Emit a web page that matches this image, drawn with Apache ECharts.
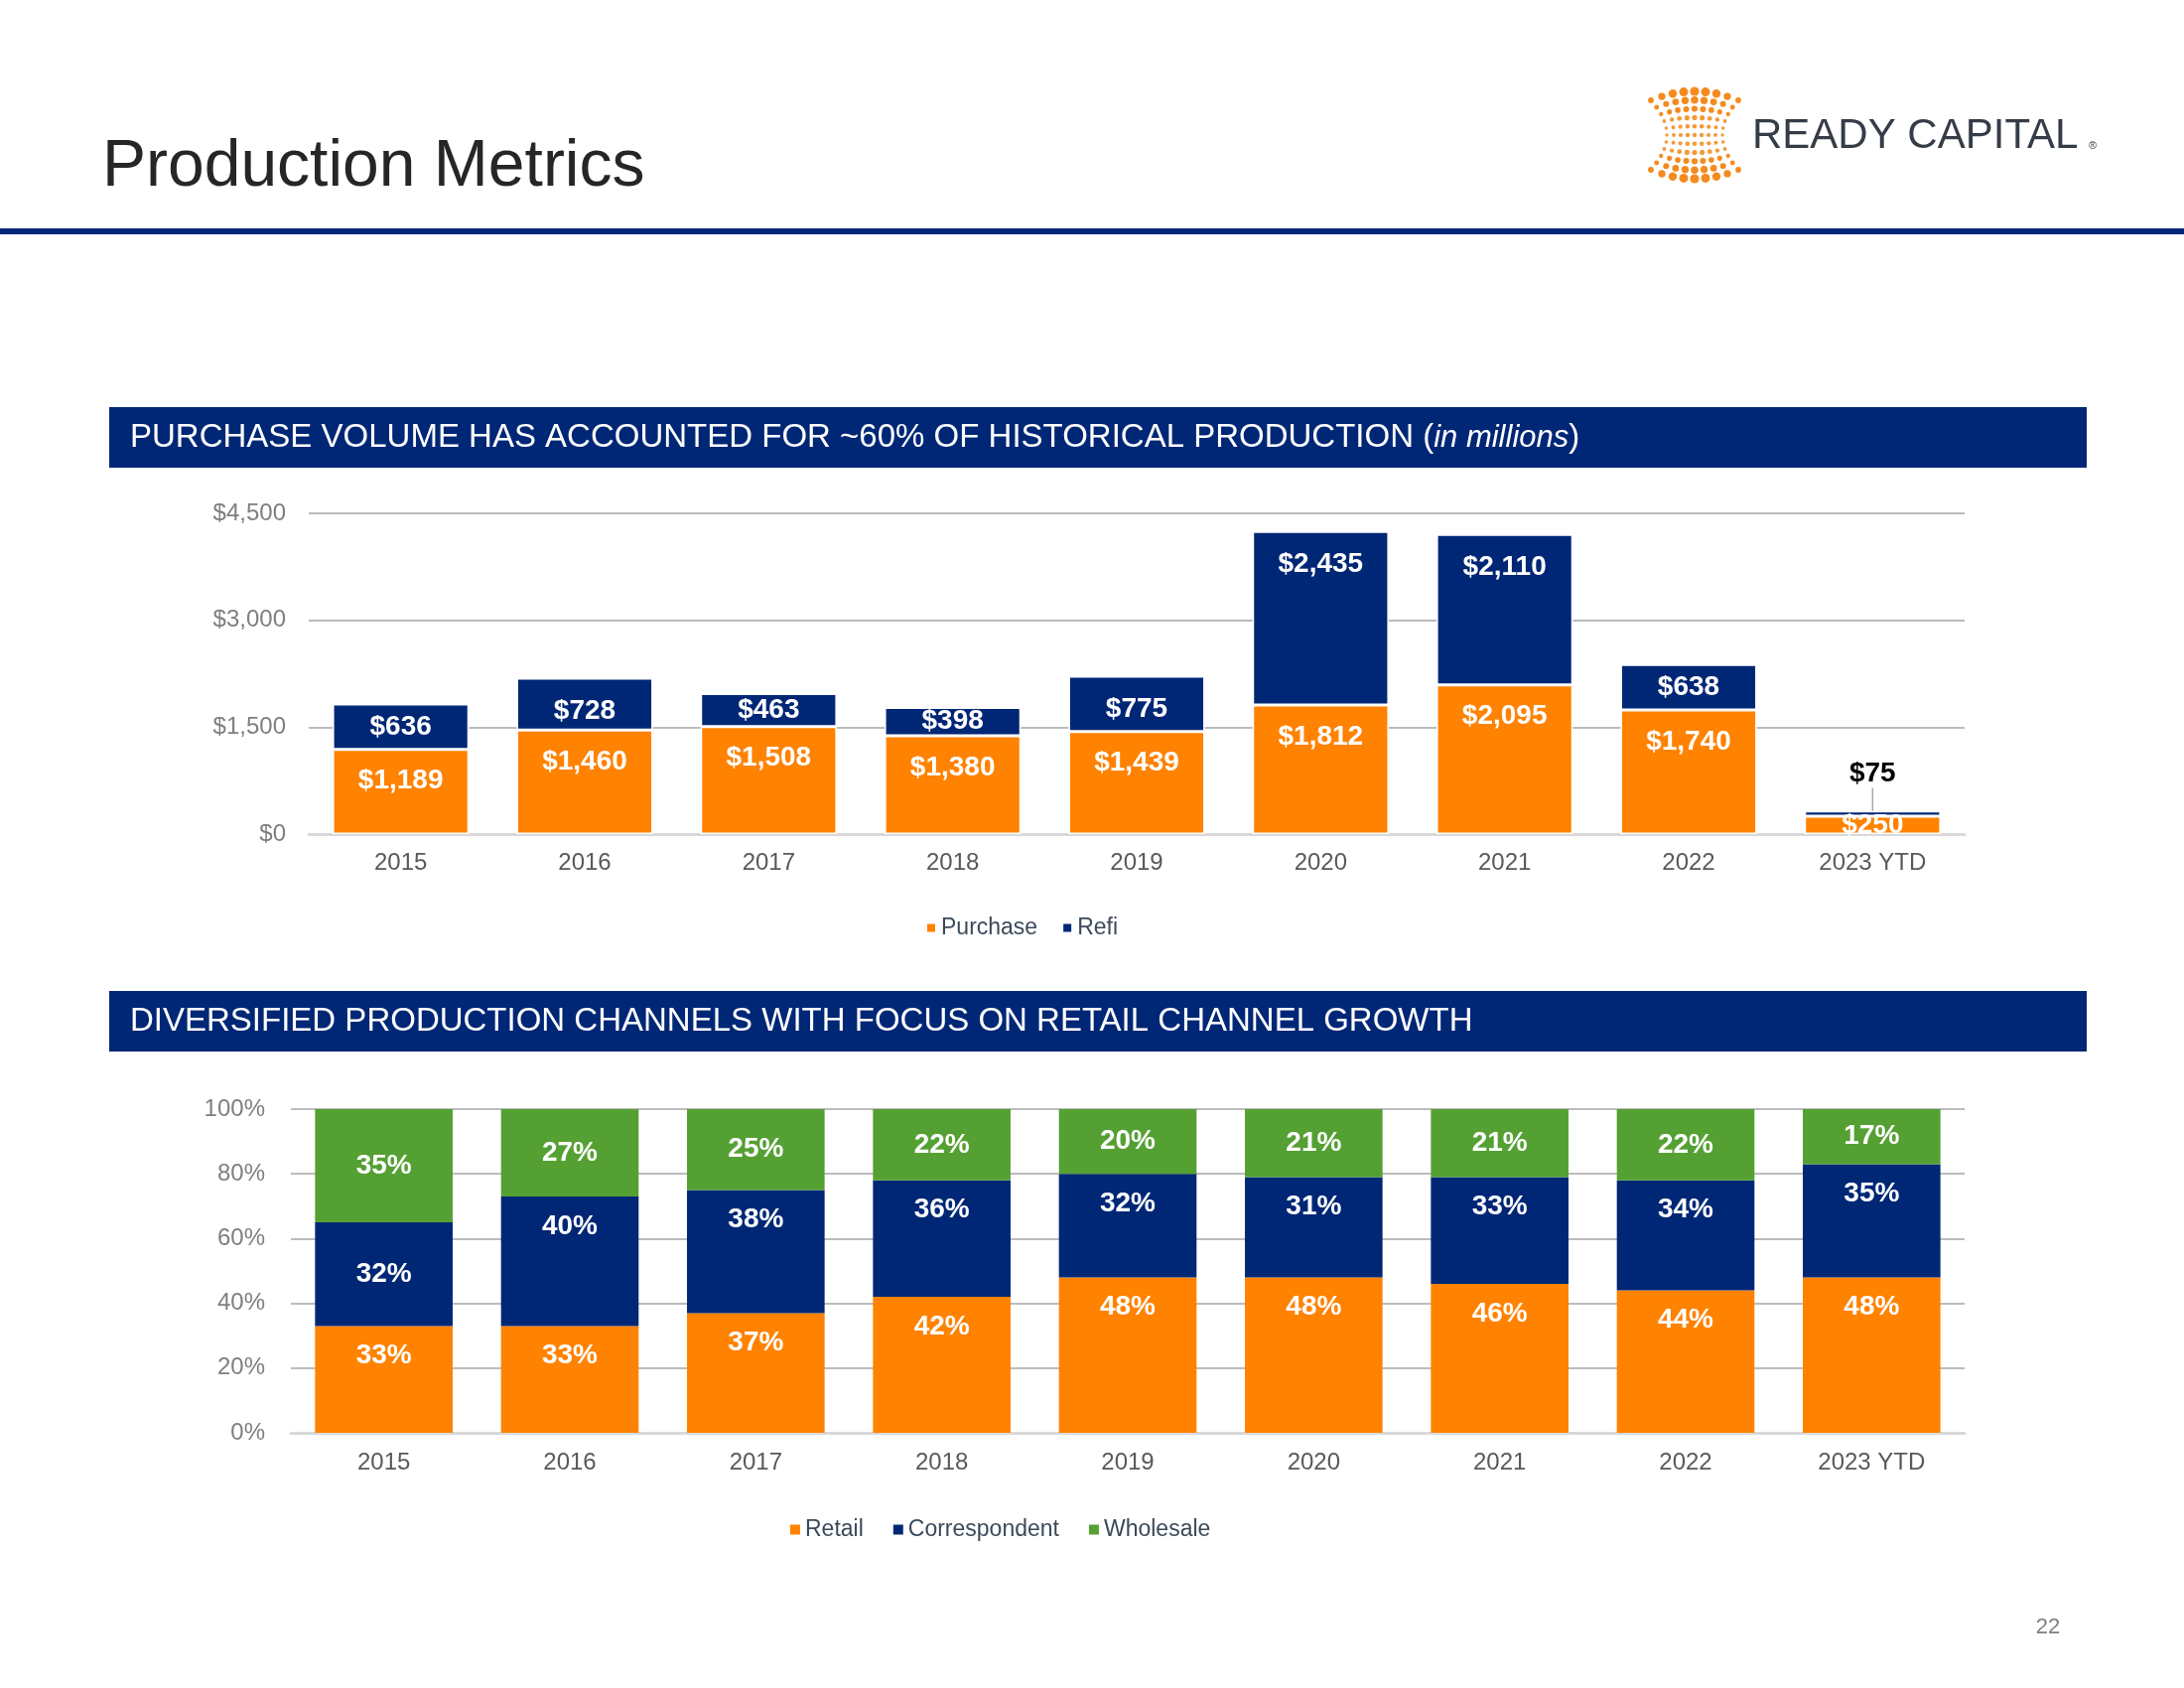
<!DOCTYPE html>
<html><head><meta charset="utf-8">
<script src="https://cdn.jsdelivr.net/npm/echarts@6/dist/echarts.min.js"></script>
<style>html,body{margin:0;padding:0;background:#fff}#c{width:2200px;height:1700px}</style>
</head><body><div id="c"></div>
<script>
// ---- data ----
const years = ['2015','2016','2017','2018','2019','2020','2021','2022','2023 YTD'];
const purchase = [1189,1460,1508,1380,1439,1812,2095,1740,250];
const refi = [636,728,463,398,775,2435,2110,638,75];
const retail = [33,33,37,42,48,48,46,44,48];
const correspondent = [32,40,38,36,32,31,33,34,35];
const wholesale = [35,27,25,22,20,21,21,22,17];
const volumeTicks = [0,1500,3000,4500];
const shareTicks = [0,20,40,60,80,100];

// ---- style ----
const ORANGE = '#FF8200', NAVY = '#002776', GREEN = '#55A033';
const FONT = '"Liberation Sans", Arial, sans-serif';
const last = years.length - 1;
const money = v => '$' + Number(v).toLocaleString('en-US');

// logo dots
const logoDots = [];
for (let r = 0; r <= 10; r++) {
  const t = (r - 5) / 5;
  for (let c = 0; c <= 8; c++) {
    const u = (c - 4) / 4;
    const x = 1707 + u * (28 + 16 * t * t);
    const y = 136 + t * (35 + 9 * (1 - u * u));
    const rad = 1.7 + 2.4 * t * t * (1 - 0.5 * u * u) + 0.5 * (1 - u * u);
    logoDots.push({type: 'circle', shape: {cx: x, cy: y, r: rad}, style: {fill: (Math.abs(t) > 0.5 ? '#F58A1F' : '#F39A3A')}, silent: true});
  }
}

const barLabel = {show: true, color: '#fff', fontFamily: FONT, fontWeight: 'bold', fontSize: 28};

const option = {
  backgroundColor: '#fff',
  animation: false,
  textStyle: {fontFamily: FONT},
  graphic: [
    {type: 'text', left: 103, top: 136, style: {text: 'Production Metrics', font: '66px ' + FONT, fill: '#262626'}},
    {type: 'rect', shape: {x: 0, y: 230, width: 2200, height: 6}, style: {fill: NAVY}},
    {type: 'rect', shape: {x: 110, y: 410, width: 1992, height: 61}, style: {fill: NAVY}},
    {type: 'rect', shape: {x: 110, y: 998, width: 1992, height: 61}, style: {fill: NAVY}},
    {type: 'text', x: 131, y: 441, style: {
      text: '{n|PURCHASE VOLUME HAS ACCOUNTED FOR ~60% OF HISTORICAL PRODUCTION (}{i|in millions}{n|)}',
      verticalAlign: 'middle', rich: {
        n: {fontFamily: FONT, fontSize: 33, fill: '#fff'},
        i: {fontFamily: FONT, fontSize: 31, fontStyle: 'italic', fill: '#fff'}
      }}},
    {type: 'text', x: 131, y: 1029, style: {text: 'DIVERSIFIED PRODUCTION CHANNELS WITH FOCUS ON RETAIL CHANNEL GROWTH',
      verticalAlign: 'middle', font: '33px ' + FONT, fill: '#fff'}},
    {type: 'text', x: 1765, y: 137, style: {text: 'READY CAPITAL', verticalAlign: 'middle', font: '42px ' + FONT, fill: '#353C47'}},
    {type: 'text', x: 2104, y: 147, style: {text: '®', verticalAlign: 'middle', font: '11px ' + FONT, fill: '#353C47'}},
    {type: 'text', x: 2063, y: 1639, style: {text: '22', align: 'center', verticalAlign: 'middle', font: '22px ' + FONT, fill: '#7F7F7F'}},
    ...logoDots
  ],
  legend: [
    {data: ['Purchase', 'Refi'], left: 927, top: 918, icon: 'rect', itemWidth: 10, itemHeight: 10, itemGap: 24,
      textStyle: {fontFamily: FONT, fontSize: 23, color: '#3B4A5A'}},
    {data: ['Retail', 'Correspondent', 'Wholesale'], left: 791, top: 1524, icon: 'rect', itemWidth: 10, itemHeight: 10, itemGap: 30,
      textStyle: {fontFamily: FONT, fontSize: 23, color: '#3B4A5A'}}
  ],
  grid: [
    {left: 311, right: 221, top: 517, height: 323},
    {left: 293, right: 221, top: 1117, height: 326}
  ],
  xAxis: [
    {type: 'category', gridIndex: 0, data: years, axisTick: {show: false},
      axisLine: {lineStyle: {color: '#D9D9D9', width: 3}},
      axisLabel: {fontFamily: FONT, fontSize: 24, color: '#595959', margin: 17}},
    {type: 'category', gridIndex: 1, data: years, axisTick: {show: false},
      axisLine: {lineStyle: {color: '#D9D9D9', width: 3}},
      axisLabel: {fontFamily: FONT, fontSize: 24, color: '#595959', margin: 18}}
  ],
  yAxis: [
    {type: 'value', gridIndex: 0, min: volumeTicks[0], max: volumeTicks[volumeTicks.length - 1], interval: volumeTicks[1] - volumeTicks[0],
      axisLine: {show: false}, axisTick: {show: false},
      splitLine: {lineStyle: {color: '#A6A6A6', width: 1.5}},
      axisLabel: {fontFamily: FONT, fontSize: 24, color: '#7F7F7F', margin: 23, formatter: v => money(v)}},
    {type: 'value', gridIndex: 1, min: shareTicks[0], max: shareTicks[shareTicks.length - 1], interval: shareTicks[1] - shareTicks[0],
      axisLine: {show: false}, axisTick: {show: false},
      splitLine: {lineStyle: {color: '#A6A6A6', width: 1.5}},
      axisLabel: {fontFamily: FONT, fontSize: 24, color: '#7F7F7F', margin: 26, formatter: v => v + '%'}}
  ],
  series: [
    {name: 'Purchase', type: 'bar', stack: 'vol', xAxisIndex: 0, yAxisIndex: 0, barCategoryGap: '26%',
      itemStyle: {color: ORANGE, borderColor: '#fff', borderWidth: 1.5},
      label: Object.assign({}, barLabel, {position: 'insideTop', distance: 18, formatter: p => money(p.value)}),
      data: purchase.map((v, i) => i === last ? {value: v, label: {position: 'inside', distance: 0}} : v)},
    {name: 'Refi', type: 'bar', stack: 'vol', xAxisIndex: 0, yAxisIndex: 0, barCategoryGap: '26%',
      itemStyle: {color: NAVY, borderColor: '#fff', borderWidth: 1.5},
      label: Object.assign({}, barLabel, {position: 'insideTop', distance: 19, formatter: p => money(p.value)}),
      labelLayout: p => (p.dataIndex === last ? {dy: -19} : {}),
      data: refi.map((v, i) => {
        if (i === last) return {value: v, label: {position: 'top', distance: 4, color: '#000'},
          labelLine: {show: true, lineStyle: {color: '#A6A6A6', width: 1.5}}};
        if (v < 700) return {value: v, label: {position: 'inside'}};
        return v;
      })},
    {name: 'Retail', type: 'bar', stack: 'share', xAxisIndex: 1, yAxisIndex: 1, barCategoryGap: '26%',
      itemStyle: {color: ORANGE},
      label: Object.assign({}, barLabel, {position: 'insideTop', distance: 16, formatter: p => p.value + '%'}),
      data: retail},
    {name: 'Correspondent', type: 'bar', stack: 'share', xAxisIndex: 1, yAxisIndex: 1, barCategoryGap: '26%',
      itemStyle: {color: NAVY},
      label: Object.assign({}, barLabel, {position: 'insideTop', distance: 16, formatter: p => p.value + '%'}),
      data: correspondent.map((v, i) => i === 0 ? {value: v, label: {position: 'inside'}} : v)},
    {name: 'Wholesale', type: 'bar', stack: 'share', xAxisIndex: 1, yAxisIndex: 1, barCategoryGap: '26%',
      itemStyle: {color: GREEN},
      label: Object.assign({}, barLabel, {position: 'inside', formatter: p => p.value + '%'}),
      data: wholesale}
  ]
};
const chart = echarts.init(document.getElementById('c'), null, {renderer: 'canvas', width: 2200, height: 1700});
chart.setOption(option);
</script></body></html>
